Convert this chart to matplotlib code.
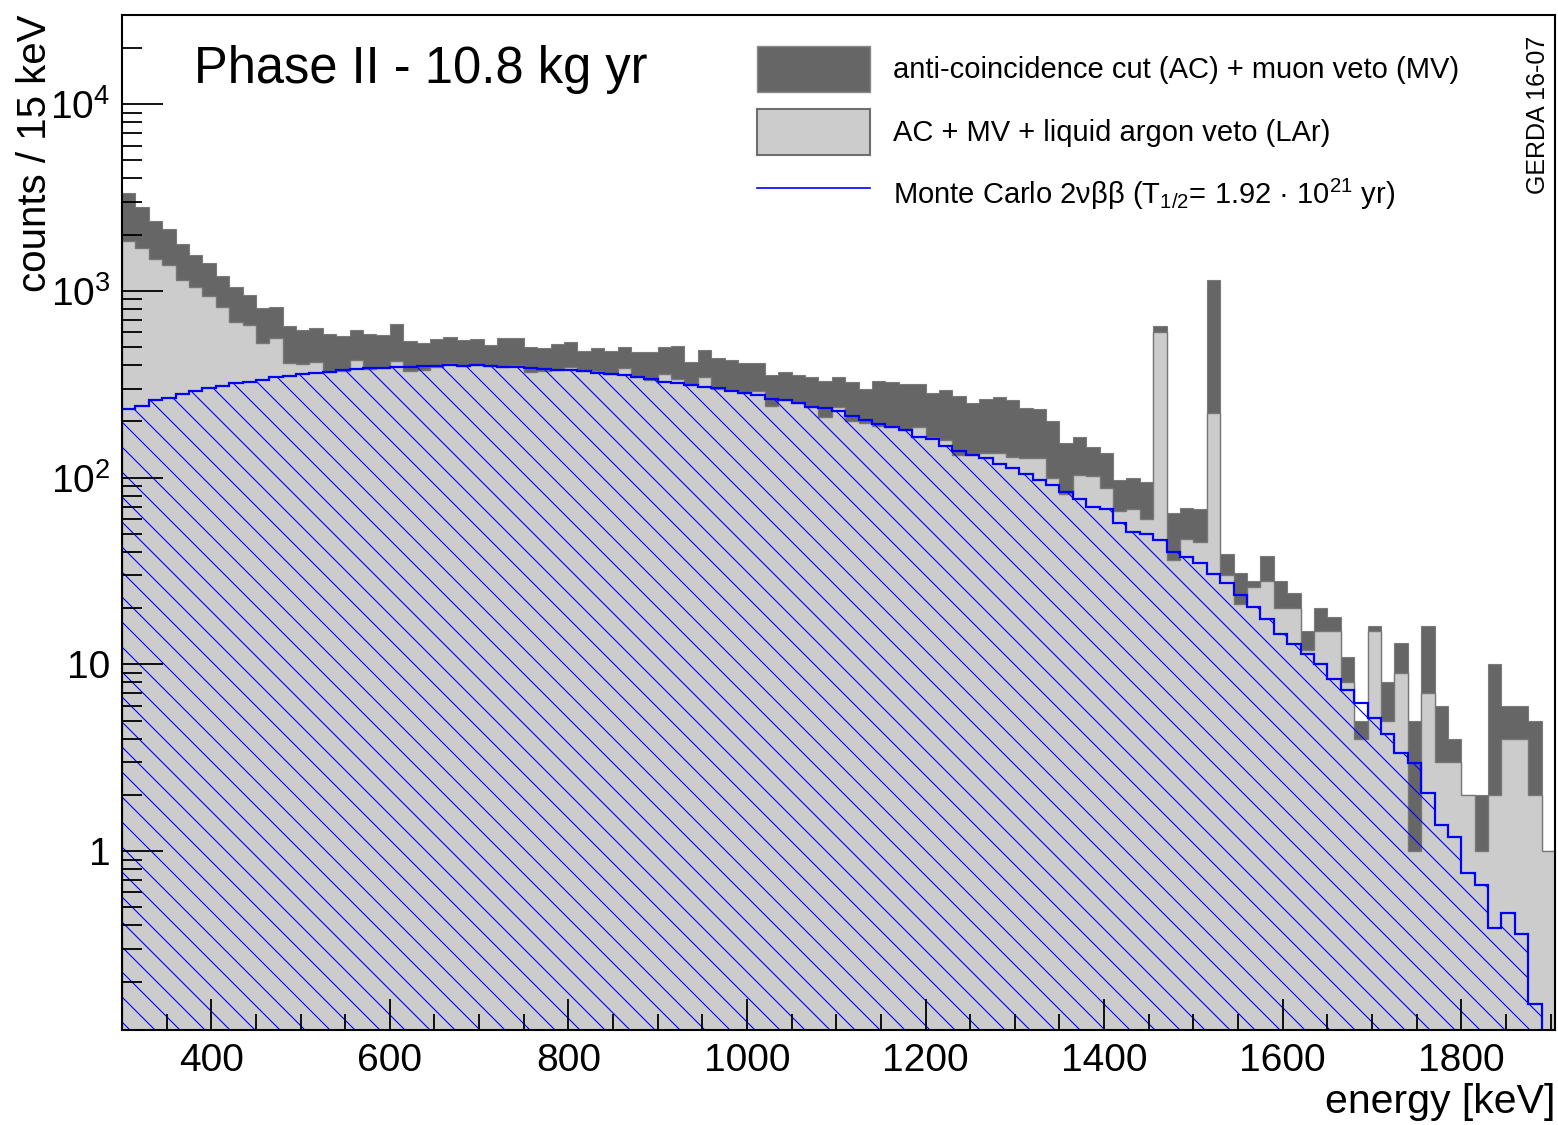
import numpy as np
import matplotlib.pyplot as plt
from matplotlib.patches import Patch
from matplotlib.lines import Line2D
from matplotlib.ticker import (FixedLocator, FixedFormatter, LogLocator,
                               MultipleLocator, NullFormatter)

DPI = 150
k = 100 / DPI   # sizes below are tuned for 100 dpi, scaled here

plt.rcParams['font.family'] = ['Liberation Sans', 'DejaVu Sans']
plt.rcParams['hatch.linewidth'] = 0.8 * k

# energy binning (keV)
e_min = 300
bin_width = 15

# counts / 15 keV, anti-coincidence + muon veto
ac_mv = [3334, 2805, 2377, 2138, 1777, 1552, 1406, 1206, 1045, 951,
         807, 817, 651, 617, 635, 586, 573, 617, 588, 580,
         665, 541, 528, 550, 566, 546, 552, 515, 559, 557,
         499, 493, 517, 535, 478, 496, 476, 499, 473, 473,
         499, 507, 418, 482, 435, 426, 409, 412, 353, 366,
         356, 344, 330, 347, 324, 297, 329, 326, 316, 316,
         283, 294, 275, 252, 263, 269, 260, 237, 232, 202,
         154, 166, 146, 135, 97, 99, 95, 649, 65, 69,
         68, 1143, 39, 31, 28, 38, 28, 24, 15, 20,
         18, 11, 5, 16, 8, 13, 5, 16, 6, 4,
         2, 2, 10, 6, 6, 5, 1]

# AC + MV + liquid argon veto
lar = [1850, 1691, 1482, 1376, 1143, 1045, 943, 823, 679, 657,
       524, 557, 412, 404, 415, 369, 372, 426, 380, 386,
       423, 374, 377, 393, 412, 398, 400, 398, 393, 401,
       369, 372, 376, 390, 372, 372, 357, 385, 345, 335,
       359, 336, 312, 347, 300, 295, 284, 292, 242, 259,
       250, 240, 212, 238, 200, 197, 189, 186, 180, 186,
       166, 159, 132, 132, 135, 135, 129, 127, 127, 100,
       82, 103, 102, 88, 66, 68, 60, 605, 36, 47,
       45, 223, 30, 21, 26, 28, 20, 20, 12, 15,
       15, 8, 4, 15, 5, 9, 1, 7, 3, 3,
       2, 1, 2, 4, 4, 2, 1]

# Monte Carlo 2nbb
mc = [233, 243, 260, 266, 279, 291, 301, 311, 320, 326,
      333, 346, 352, 359, 365, 369, 376, 382, 385, 388,
      393, 393, 394, 396, 400, 398, 400, 398, 393, 391,
      386, 381, 379, 377, 372, 365, 359, 353, 347, 336,
      326, 320, 313, 305, 301, 292, 285, 277, 264, 260,
      252, 240, 235, 228, 214, 203, 194, 186, 180, 166,
      160, 148, 138, 132, 127, 118, 112, 105, 97, 91,
      84, 77, 70, 67.6, 57.4, 51.3, 49.9, 46.3, 40.1, 37.7,
      34.7, 30.5, 27.2, 23.5, 20.4, 17.4, 14.6, 12.9, 11.4, 10.0,
      8.3, 7.28, 6.23, 5.14, 4.24, 3.34, 2.95, 2.05, 1.38, 1.19,
      0.76, 0.66, 0.385, 0.464, 0.359, 0.152, 0]

y_ticks = [1, 10, 100, 1000, 10000]
y_tick_labels = ['1', '10', r'$\mathregular{10^{2}}$',
                 r'$\mathregular{10^{3}}$', r'$\mathregular{10^{4}}$']

labels = ['anti-coincidence cut (AC) + muon veto (MV)',
          'AC + MV + liquid argon veto (LAr)',
          r'Monte Carlo 2νββ (T$\mathregular{_{1/2}}$= 1.92 · 10$\mathregular{^{21}}$ yr)']

dark = '#666666'
light = '#cccccc'
blue = '#0000ff'

edges = e_min + bin_width * np.arange(len(ac_mv) + 1)

fig = plt.figure(figsize=(1558 / DPI, 1125 / DPI), dpi=DPI)
ax = fig.add_axes([0.0783, 0.0844, 0.9198, 0.9022])
ax.set_yscale('log')

ax.stairs(ac_mv, edges, fill=True, baseline=0.01,
          facecolor=dark, edgecolor='#7a7a7a', linewidth=0.8 * k)
ax.stairs(lar, edges, fill=True, baseline=0.01,
          facecolor=light, edgecolor='#777777', linewidth=1.0 * k)
ax.stairs(mc, edges, fill=True, baseline=0.01,
          facecolor='none', edgecolor=blue, linewidth=0, hatch='\\\\')
ax.stairs(mc, edges, baseline=None, color=blue, linewidth=1.6 * k)

ax.set_xlim(300, 1905)
ax.set_ylim(0.11, 3e4)

ax.xaxis.set_major_locator(MultipleLocator(200))
ax.xaxis.set_minor_locator(MultipleLocator(50))
ax.yaxis.set_major_locator(FixedLocator(y_ticks))
ax.yaxis.set_major_formatter(FixedFormatter(y_tick_labels))
ax.yaxis.set_minor_locator(LogLocator(base=10, subs=np.arange(2, 10), numticks=20))
ax.yaxis.set_minor_formatter(NullFormatter())

ax.tick_params(which='both', direction='in', top=False, right=False,
               width=1.3 * k, color='black')
ax.tick_params(axis='y', which='major', length=29.5 * k, pad=8.5 * k, labelsize=28 * k)
ax.tick_params(axis='y', which='minor', length=14.4 * k)
ax.tick_params(axis='x', which='major', length=22 * k, pad=9 * k, labelsize=28 * k)
ax.tick_params(axis='x', which='minor', length=11.5 * k)
for s in ax.spines.values():
    s.set_linewidth(1.5 * k)
ax.set_axisbelow(False)

fig.text(0.1245, 0.9262, 'Phase II - 10.8 kg yr', fontsize=36.5 * k,
         ha='left', va='baseline')
fig.text(0.0225, 0.987, 'counts / 15 keV', fontsize=29 * k, rotation=90,
         ha='center', va='top')
fig.text(0.998, 0.0107, 'energy [keV]', fontsize=29.5 * k, ha='right', va='baseline')
fig.text(0.9872, 0.898, 'GERDA 16-07', fontsize=18 * k, rotation=90,
         ha='center', va='center')

handles = [Patch(facecolor=dark, edgecolor='#8a8a8a', linewidth=1.0 * k, label=labels[0]),
           Patch(facecolor=light, edgecolor='#6e6e6e', linewidth=1.5 * k, label=labels[1]),
           Line2D([], [], color=blue, linewidth=1.2 * k, label=labels[2])]
ax.legend(handles=handles, loc='upper left',
          bbox_to_anchor=(757 / 1558, 1 - 46 / 1125), bbox_transform=fig.transFigure,
          frameon=False, fontsize=21 * k, handlelength=3.87, handleheight=2.05,
          labelspacing=0.58, handletextpad=0.8, borderpad=0, borderaxespad=0)

fig.savefig('out.png', dpi=DPI)
